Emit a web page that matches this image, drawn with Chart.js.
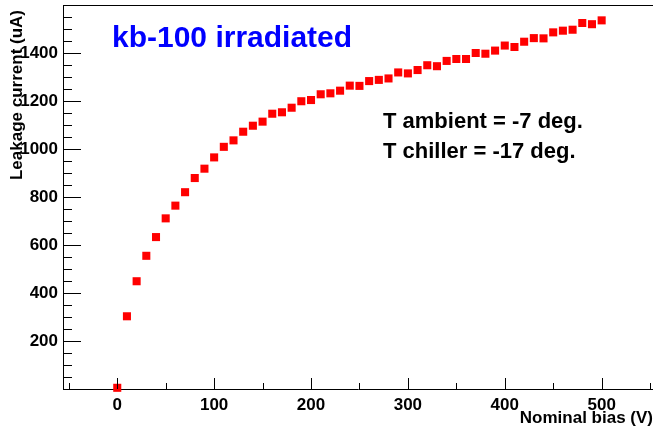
<!DOCTYPE html>
<html>
<head>
<meta charset="utf-8">
<script src="https://cdn.jsdelivr.net/npm/chart.js@4"></script>
<style>
  html, body { margin: 0; padding: 0; background: #fff; }
  #wrap { width: 653px; height: 432px; }
</style>
</head>
<body>
<div id="wrap"><canvas id="ivChart" width="653" height="432"></canvas></div>
<script>
// bias scan, one reading every 10 V
const biasV = [0, 10, 20, 30, 40, 50, 60, 70, 80, 90,
    100, 110, 120, 130, 140, 150, 160, 170, 180, 190,
    200, 210, 220, 230, 240, 250, 260, 270, 280, 290,
    300, 310, 320, 330, 340, 350, 360, 370, 380, 390,
    400, 410, 420, 430, 440, 450, 460, 470, 480, 490, 500];
const leakageUA = [5, 303, 449, 555, 633, 711, 764, 820, 879, 918,
    965, 1009, 1036, 1072, 1097, 1114, 1147, 1153, 1172, 1199,
    1204, 1228, 1232, 1243, 1264, 1263, 1283, 1288, 1294, 1319,
    1315, 1329, 1349, 1345, 1367, 1375, 1375, 1400, 1397, 1410,
    1431, 1425, 1447, 1462, 1461, 1486, 1493, 1497, 1525, 1520, 1536];
const xTickLabels = [0, 100, 200, 300, 400, 500];
const yTickLabels = [200, 400, 600, 800, 1000, 1200, 1400];

const titleText = 'kb-100 irradiated';
const yTitle = 'Leakage current (uA)';
const noteLines = ['T ambient = -7 deg.', 'T chiller = -17 deg.'];

const FONT = '"Liberation Sans", Arial, Helvetica, sans-serif';

// ROOT-style frame: top line plus inward ticks on both axes
const frameTicks = {
    id: 'frameTicks',
    afterDatasetsDraw(chart) {
        const {ctx, chartArea: a, scales: {x, y}} = chart;
        ctx.save();
        ctx.strokeStyle = '#000';
        ctx.lineWidth = 1;
        ctx.beginPath();
        ctx.moveTo(a.left, a.top + 0.5);
        ctx.lineTo(a.right, a.top + 0.5);
        for (let v = 0; v <= y.max; v += 50) {
            const py = Math.round(y.getPixelForValue(v)) + 0.5;
            const len = v % 200 === 0 ? 18 : 9;
            ctx.moveTo(a.left, py);
            ctx.lineTo(a.left + len, py);
        }
        for (let v = -50; v <= x.max; v += 50) {
            if (v < x.min) continue;
            const px = Math.round(x.getPixelForValue(v)) + 0.5;
            const len = v % 100 === 0 ? 11 : 6;
            ctx.moveTo(px, a.bottom);
            ctx.lineTo(px, a.bottom - len);
        }
        ctx.stroke();
        ctx.restore();
    }
};

const labels = {
    id: 'labels',
    afterDraw(chart) {
        const ctx = chart.ctx;
        ctx.save();
        ctx.textBaseline = 'alphabetic';
        ctx.textAlign = 'left';
        ctx.fillStyle = '#0000ff';
        ctx.font = 'bold 30px ' + FONT;
        ctx.fillText(titleText, 112, 47);
        ctx.fillStyle = '#000';
        ctx.font = 'bold 22px ' + FONT;
        ctx.fillText(noteLines[0], 383, 128);
        ctx.fillText(noteLines[1], 383, 158);
        // y title sits flush with the top, overlapping the tick labels
        ctx.font = 'bold 17px ' + FONT;
        ctx.translate(17, 10);
        ctx.rotate(-Math.PI / 2);
        ctx.textAlign = 'right';
        ctx.textBaseline = 'middle';
        ctx.fillText(yTitle, 0, 0);
        ctx.restore();
    }
};

new Chart(document.getElementById('ivChart'), {
    type: 'scatter',
    data: {
        datasets: [{
            label: 'kb-100',
            data: biasV.map((v, i) => ({x: v, y: leakageUA[i]})),
            pointStyle: 'rect',
            pointRadius: 5.7,
            pointHoverRadius: 5.7,
            backgroundColor: '#ff0000',
            borderWidth: 0,
            clip: false
        }]
    },
    options: {
        responsive: false,
        devicePixelRatio: 1,
        animation: false,
        events: [],
        layout: {autoPadding: false, padding: {top: 5, right: 0, left: 0, bottom: 0}},
        plugins: {legend: {display: false}, tooltip: {enabled: false}},
        scales: {
            x: {
                type: 'linear',
                min: -56,
                max: 553,
                afterBuildTicks: s => { s.ticks = xTickLabels.map(v => ({value: v})); },
                afterFit: s => { s.height = 43; s.paddingLeft = 0; s.paddingRight = 0; },
                grid: {display: false, drawTicks: false},
                border: {display: true, color: '#000', width: 1},
                ticks: {
                    color: '#000',
                    padding: 6,
                    maxRotation: 0,
                    callback: v => String(v),
                    font: {family: FONT, size: 17, weight: 'bold'}
                },
                title: {
                    display: true,
                    text: 'Nominal bias (V)',
                    align: 'end',
                    color: '#000',
                    padding: {top: 0, bottom: 3},
                    font: {family: FONT, size: 17, weight: 'bold'}
                }
            },
            y: {
                type: 'linear',
                min: 0,
                max: 1600,
                afterBuildTicks: s => { s.ticks = yTickLabels.map(v => ({value: v})); },
                afterFit: s => { s.width = 63; s.paddingTop = 0; s.paddingBottom = 0; },
                grid: {display: false, drawTicks: false},
                border: {display: true, color: '#000', width: 1},
                ticks: {
                    color: '#000',
                    padding: 5,
                    callback: v => String(v),
                    font: {family: FONT, size: 17, weight: 'bold'}
                },
                title: {display: false}
            }
        }
    },
    plugins: [frameTicks, labels]
});
</script>
</body>
</html>
